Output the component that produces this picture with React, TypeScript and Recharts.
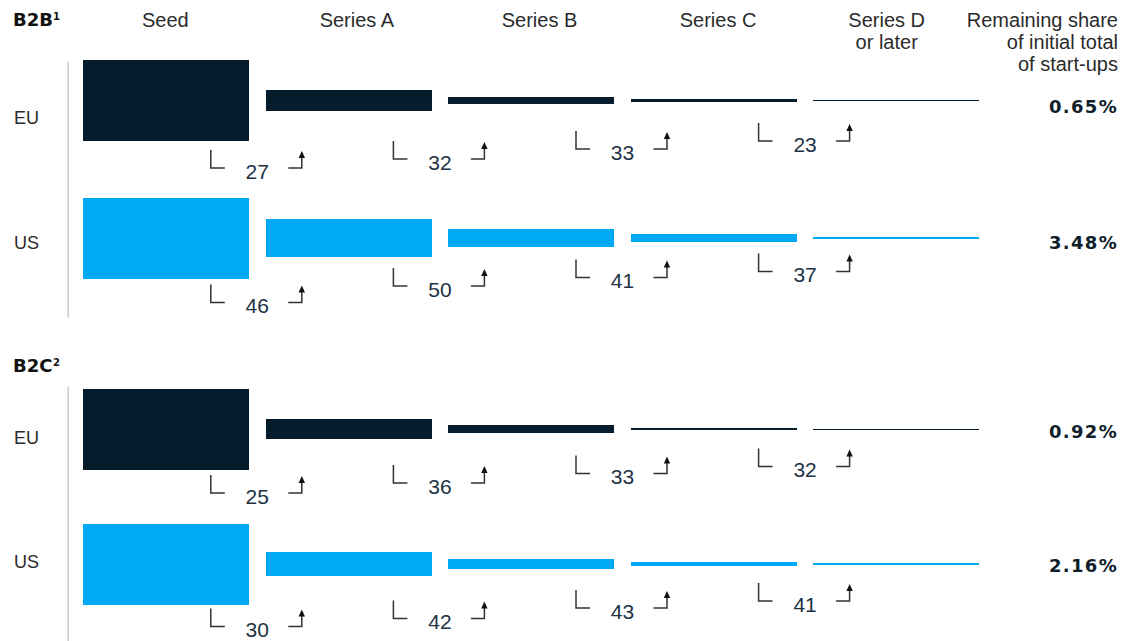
import { BarChart, Bar, XAxis, YAxis } from 'recharts'

// funding rounds, left to right
const stages = ['Seed', 'Series A', 'Series B', 'Series C', 'Series D\nor later']

// share of start-ups (%) that go on to raise the next round
const b2bEu = [27, 32, 33, 23]
const b2bUs = [46, 50, 41, 37]
const b2cEu = [25, 36, 33, 32]
const b2cUs = [30, 42, 43, 41]

// remaining share of the initial total of start-ups (%)
const remainingShare = [0.65, 3.48, 0.92, 2.16]

const regions = ['EU', 'US', 'EU', 'US']
const conversions = [b2bEu, b2bUs, b2cEu, b2cUs]

const NAVY = '#051c2c'
const BLUE = '#00a9f4'
const rowColors = [NAVY, BLUE, NAVY, BLUE]

// layout
const W = 1134
const H = 641
const PX = 81 // px for a full (seed = 100%) bar
const ABOVE = 45
const BELOW = 85
const HEADER_H = 55.5
const LEFT_W = 75
const RIGHT_W = 146
const BAR_W = 166
const GAP = (W - LEFT_W - RIGHT_W) / stages.length - BAR_W
const rowCenter = [100.5, 237.5, 428.5, 563.5]
const stepDrop = [
  [70.5, 61.5, 51.5, 43.5],
  [67.5, 51, 42.5, 36.5],
  [67, 57, 47.5, 40.5],
  [65.5, 57.5, 47, 40],
]
const regionDy = [17, 4.5, 8, -2.5]
const shareDy = [5.5, 4.5, 2, 1.5]
const headerDx = [-1, 8, 8, 4, -10]

const SANS = '"Liberation Sans", Arial, sans-serif'
const BOLD = '"DejaVu Sans", sans-serif'
const TEXT = '#2b2b2b'

function buildRow(conv: number[], remaining: number) {
  let share = 1
  return stages.map((stage, i) => {
    if (i > 0) {
      share = i === stages.length - 1 ? remaining / 100 : (share * conv[i - 1]) / 100
    }
    return { stage, span: [-share / 2, share / 2], conv: i > 0 ? conv[i - 1] : null, step: i }
  })
}

function StageTick(props: any) {
  const { x, payload, index } = props
  const lines = String(payload.value).split('\n')
  return (
    <text x={x + headerDx[index]} y={27} textAnchor="middle" fontFamily={SANS} fontSize={20} fill={TEXT}>
      {lines.map((l, i) => (
        <tspan key={i} x={x + headerDx[index]} y={27 + i * 22}>{l}</tspan>
      ))}
    </text>
  )
}

function StepBar(props: any) {
  const { x, y, width, height, fill, payload, centerY, drops, share, shareOffset } = props
  const h = Math.max(height, 1)
  const rect = <rect x={x} y={y} width={width} height={h} fill={fill} shapeRendering="crispEdges" />
  if (payload.conv == null) return rect
  const ny = centerY + drops[payload.step - 1]
  const mid = x - GAP / 2
  const lb = ny - 3
  const ax = mid + 44.5
  const last = payload.step === stages.length - 1
  return (
    <g>
      {rect}
      <polyline
        points={`${mid - 46.5},${lb - 18} ${mid - 46.5},${lb} ${mid - 32.5},${lb}`}
        fill="none" stroke="#333" strokeWidth={1.5}
      />
      <polyline
        points={`${mid + 31},${lb} ${ax},${lb} ${ax},${lb - 11}`}
        fill="none" stroke="#333" strokeWidth={1.5}
      />
      <path d={`M${ax},${lb - 17} L${ax - 3.2},${lb - 10} L${ax + 3.2},${lb - 10} Z`} fill="#111" />
      <text x={mid} y={ny + 7.5} textAnchor="middle" fontFamily={SANS} fontSize={21} fill="#203245">
        {payload.conv}
      </text>
      {last && (
        <text
          x={W - 16}
          y={centerY + shareOffset + 6.5}
          textAnchor="end"
          fontFamily={BOLD}
          fontWeight={700}
          fontSize={18}
          letterSpacing={1.3}
          fill="#0f1e2b"
        >
          {share.toFixed(2)}%
        </text>
      )}
    </g>
  )
}

function FunnelRow({ row }: { row: number }) {
  const header = row === 0
  const headH = header ? HEADER_H : 0
  const data = buildRow(conversions[row], remainingShare[row])
  const centerY = headH + ABOVE
  return (
    <div style={{ position: 'absolute', left: 0, top: rowCenter[row] - ABOVE - headH }}>
      <BarChart
        width={W}
        height={headH + ABOVE + BELOW}
        data={data}
        margin={{ top: 0, right: RIGHT_W, bottom: 0, left: 0 }}
        barSize={BAR_W}
      >
        <XAxis
          dataKey="stage"
          orientation="top"
          hide={!header}
          height={headH}
          axisLine={false}
          tickLine={false}
          interval={0}
          tick={(p: any) => <StageTick {...p} />}
        />
        <YAxis
          type="number"
          domain={[-BELOW / PX, ABOVE / PX]}
          ticks={[0]}
          width={LEFT_W}
          axisLine={false}
          tickLine={false}
          tick={(p: any) => (
            <text x={14} y={p.y + regionDy[row] + 6.5} fontFamily={SANS} fontSize={18} fill={TEXT}>
              {regions[row]}
            </text>
          )}
        />
        <Bar
          dataKey="span"
          fill={rowColors[row]}
          isAnimationActive={false}
          shape={(p: any) => (
            <StepBar
              {...p}
              centerY={centerY}
              drops={stepDrop[row]}
              share={remainingShare[row]}
              shareOffset={shareDy[row]}
            />
          )}
        />
      </BarChart>
    </div>
  )
}

export default function App() {
  return (
    <div
      style={{
        position: 'fixed', left: 0, top: 0, width: W, height: H,
        overflow: 'hidden', background: '#fff',
      }}
    >
      {[0, 1, 2, 3].map((r) => <FunnelRow key={r} row={r} />)}
      <svg width={W} height={H} style={{ position: 'absolute', left: 0, top: 0, pointerEvents: 'none' }}>
        <text x={13} y={26} fontFamily={BOLD} fontWeight={700} fontSize={18} fill="#111">B2B</text>
        <text x={53} y={20} fontFamily={BOLD} fontWeight={700} fontSize={10} fill="#111">1</text>
        <text x={13} y={372} fontFamily={BOLD} fontWeight={700} fontSize={18} fill="#111">B2C</text>
        <text x={53} y={366} fontFamily={BOLD} fontWeight={700} fontSize={10} fill="#111">2</text>
        <text textAnchor="end" fontFamily={SANS} fontSize={20} fill={TEXT}>
          <tspan x={W - 16} y={27}>Remaining share</tspan>
          <tspan x={W - 16} y={49}>of initial total</tspan>
          <tspan x={W - 16} y={71}>of start-ups</tspan>
        </text>
        <rect x={67.5} y={62} width={1.5} height={256} fill="#cccccc" />
        <rect x={67.5} y={387} width={1.5} height={254} fill="#cccccc" />
      </svg>
    </div>
  )
}
